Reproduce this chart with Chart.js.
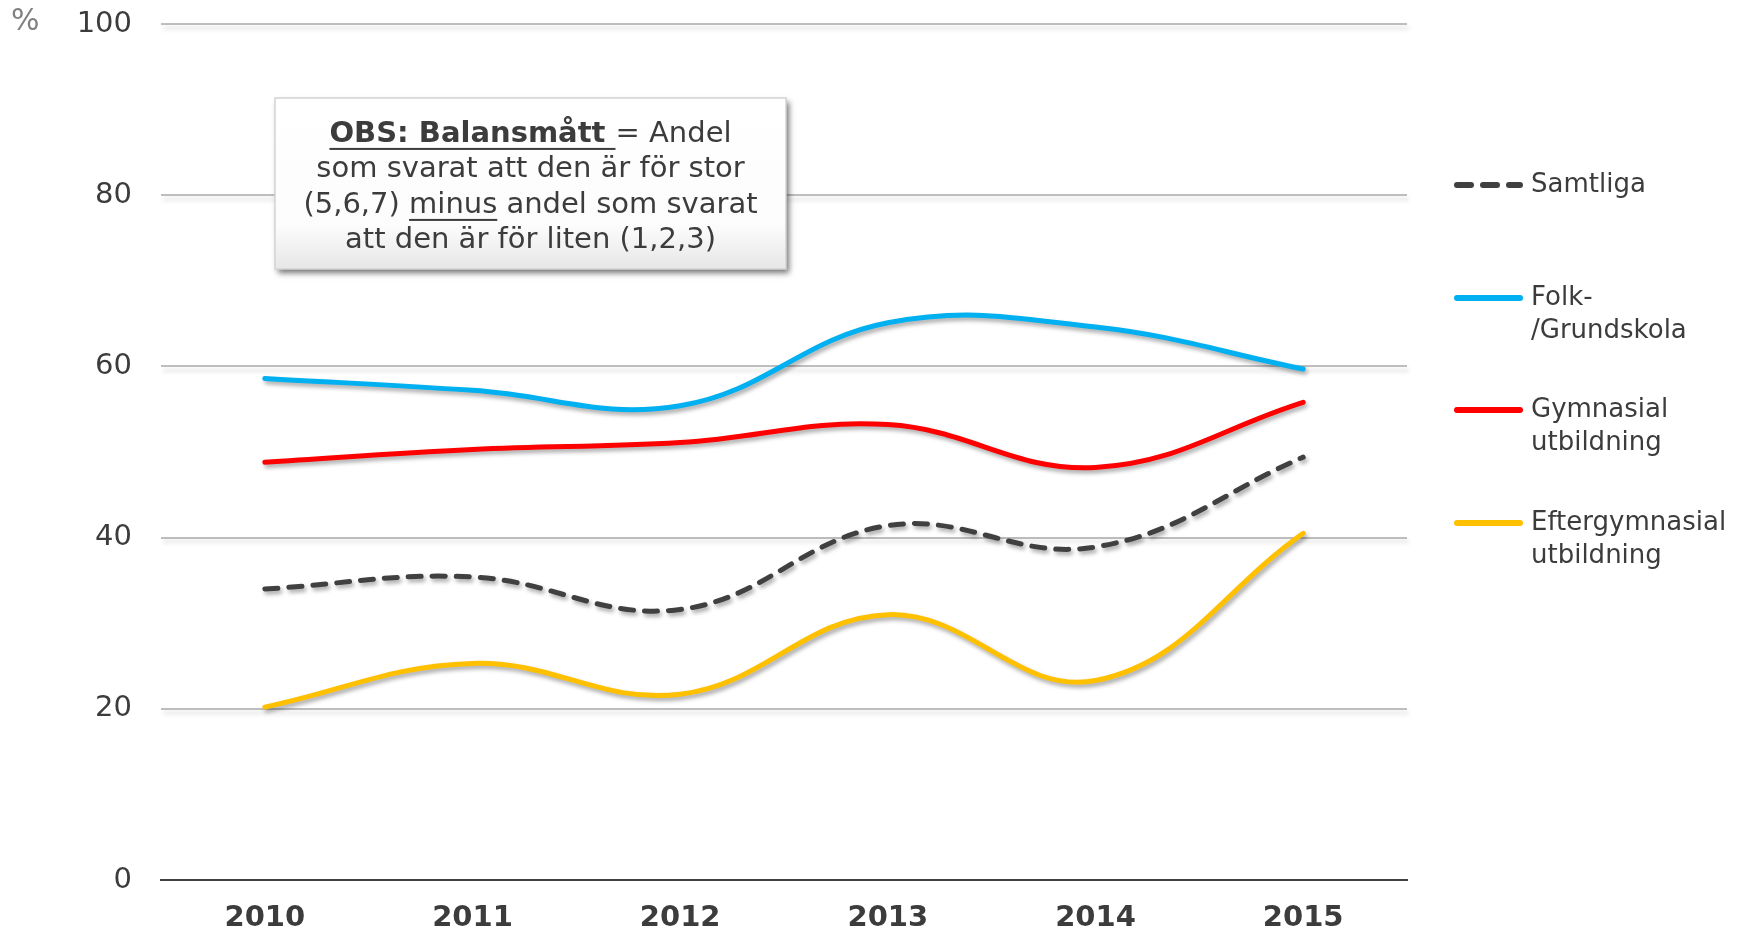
<!DOCTYPE html>
<html>
<head>
<meta charset="utf-8">
<script src="https://cdn.jsdelivr.net/npm/chart.js@4"></script>
<style>
html,body{margin:0;padding:0;background:#fff;}
canvas{display:block;}
</style>
</head>
<body>
<canvas id="c" width="1744" height="934"></canvas>
<script>
const years = ['2010','2011','2012','2013','2014','2015'];
const samtliga = [34.0, 35.4, 31.6, 41.4, 38.9, 49.4];
const folk = [58.6, 57.2, 55.4, 65.1, 64.6, 59.7];
const gymnasial = [48.8, 50.3, 51.1, 53.2, 48.2, 55.8];
const efter = [20.2, 25.3, 21.7, 31.0, 23.3, 40.5];
const seriesNames = ['Samtliga', 'Folk-/Grundskola', 'Gymnasial utbildning', 'Eftergymnasial utbildning'];
const legendLines = [['Samtliga'], ['Folk-', '/Grundskola'], ['Gymnasial', 'utbildning'], ['Eftergymnasial', 'utbildning']];
const yMin = 0, yMax = 100, yStep = 20;
const unitLabel = '%';
const noteLines = [
  [{t:'OBS: Balansmått ', b:true, u:true}, {t:'= Andel'}],
  [{t:'som svarat att den är för stor'}],
  [{t:'(5,6,7) '}, {t:'minus', u:true}, {t:' andel som svarat'}],
  [{t:'att den är för liten (1,2,3)'}]
];

const TXT = '#3c3c3c';
const FONT = "'DejaVu Sans', Verdana, sans-serif";
const colors = ['#404040', '#00b0f0', '#ff0000', '#ffc000'];

const shadowPlugin = {
  id: 'shadows',
  beforeDatasetsDraw(chart) {
    const ctx = chart.ctx, ys = chart.scales.y, ca = chart.chartArea;
    ctx.save();
    for (let v = yMin + yStep; v <= yMax; v += yStep) {
      const y = ys.getPixelForValue(v);
      ctx.strokeStyle = 'rgba(0,0,0,0.10)';
      ctx.lineWidth = 3;
      ctx.filter = 'blur(2px)';
      ctx.beginPath();
      ctx.moveTo(ca.left + 2, y + 4);
      ctx.lineTo(ca.right + 2, y + 4);
      ctx.stroke();
    }
    ctx.restore();
  },
  beforeDatasetDraw(chart) {
    const ctx = chart.ctx;
    ctx.save();
    ctx.shadowColor = 'rgba(0,0,0,0.35)';
    ctx.shadowBlur = 4;
    ctx.shadowOffsetX = 2;
    ctx.shadowOffsetY = 3;
  },
  afterDatasetDraw(chart) {
    chart.ctx.restore();
  }
};

function drawRuns(ctx, runs, cx, y, size) {
  let total = 0;
  const widths = runs.map(r => {
    ctx.font = (r.b ? 'bold ' : '') + size + 'px ' + FONT;
    const w = ctx.measureText(r.t).width;
    total += w;
    return w;
  });
  let x = cx - total / 2;
  runs.forEach((r, i) => {
    ctx.font = (r.b ? 'bold ' : '') + size + 'px ' + FONT;
    ctx.fillText(r.t, x, y);
    if (r.u) ctx.fillRect(x, y + size * 0.48, widths[i], 2);
    x += widths[i];
  });
}

const overlayPlugin = {
  id: 'overlay',
  afterDraw(chart) {
    const ctx = chart.ctx;
    ctx.save();
    ctx.fillStyle = '#808080';
    ctx.font = '30px ' + FONT;
    ctx.textBaseline = 'middle';
    ctx.textAlign = 'left';
    ctx.fillText(unitLabel, 11, 22);
    ctx.restore();

    const bx = 275, by = 98, bw = 511, bh = 171;
    ctx.save();
    ctx.shadowColor = 'rgba(0,0,0,0.55)';
    ctx.shadowBlur = 6;
    ctx.shadowOffsetX = 3;
    ctx.shadowOffsetY = 4;
    const g = ctx.createLinearGradient(0, by, 0, by + bh);
    g.addColorStop(0, '#ffffff');
    g.addColorStop(0.75, '#fcfcfc');
    g.addColorStop(1, '#e6e6e6');
    ctx.fillStyle = g;
    ctx.fillRect(bx, by, bw, bh);
    ctx.restore();
    ctx.save();
    ctx.strokeStyle = '#d4d4d4';
    ctx.lineWidth = 1.5;
    ctx.strokeRect(bx, by, bw, bh);
    ctx.fillStyle = TXT;
    ctx.textBaseline = 'middle';
    ctx.textAlign = 'left';
    const lineYs = [134, 169.5, 205, 240.5];
    noteLines.forEach((runs, i) => drawRuns(ctx, runs, bx + bw / 2, lineYs[i], 29));
    ctx.restore();

    const legY = [185, 298, 410, 523];
    ctx.save();
    chart.data.datasets.forEach((ds, i) => {
      const y = legY[i];
      ctx.strokeStyle = ds.borderColor;
      ctx.lineWidth = 6;
      ctx.lineCap = 'round';
      ctx.setLineDash(ds.borderDash && ds.borderDash.length ? [14, 12] : []);
      ctx.beginPath();
      ctx.moveTo(1457, y);
      ctx.lineTo(1520, y);
      ctx.stroke();
      ctx.setLineDash([]);
      ctx.fillStyle = TXT;
      ctx.font = '26px ' + FONT;
      ctx.textBaseline = 'middle';
      ctx.textAlign = 'left';
      legendLines[i].forEach((t, j) => ctx.fillText(t, 1531, y + j * 33));
    });
    ctx.restore();
  }
};

new Chart(document.getElementById('c'), {
  type: 'line',
  data: {
    labels: years,
    datasets: [
      {label: seriesNames[0], data: samtliga, borderColor: colors[0], borderDash: [13, 11], borderCapStyle: 'round'},
      {label: seriesNames[1], data: folk, borderColor: colors[1]},
      {label: seriesNames[2], data: gymnasial, borderColor: colors[2]},
      {label: seriesNames[3], data: efter, borderColor: colors[3]}
    ].map(d => Object.assign({borderWidth: 5, pointRadius: 0, tension: 0.4, fill: false, borderCapStyle: 'round', borderJoinStyle: 'round'}, d))
  },
  options: {
    responsive: false,
    animation: false,
    devicePixelRatio: 1,
    layout: {padding: {top: 24, right: 337, left: 0, bottom: 0}},
    plugins: {legend: {display: false}, tooltip: {enabled: false}},
    scales: {
      x: {
        offset: true,
        grid: {display: false, drawTicks: false},
        border: {display: true, color: '#404040', width: 2},
        ticks: {color: TXT, font: {family: FONT, size: 29, weight: 'bold'}, padding: 21, maxRotation: 0},
        afterFit(s) { s.height = 54; }
      },
      y: {
        min: yMin, max: yMax,
        grid: {color: ctx => ctx.tick && ctx.tick.value === 0 ? 'rgba(0,0,0,0)' : '#c0c0c0', lineWidth: 2, drawTicks: false},
        border: {display: false},
        ticks: {stepSize: yStep, color: TXT, font: {family: FONT, size: 29}, padding: 29},
        afterFit(s) { s.width = 161; s.paddingTop = 0; s.paddingBottom = 0; }
      }
    }
  },
  plugins: [shadowPlugin, overlayPlugin]
});
</script>
</body>
</html>
